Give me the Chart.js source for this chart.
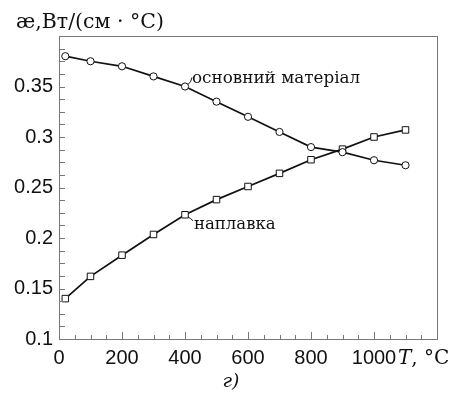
<!DOCTYPE html>
<html>
<head>
<meta charset="utf-8">
<script src="https://cdn.jsdelivr.net/npm/chart.js@4/dist/chart.umd.min.js"></script>
<style>
  html, body { margin: 0; padding: 0; background: #fff; }
  #wrap { width: 451px; height: 394px; }
</style>
</head>
<body>
<div id="wrap"><canvas id="kappaChart" width="451" height="394"></canvas></div>
<script>
// temperatures, °C
const temps = [20, 100, 200, 300, 400, 500, 600, 700, 800, 900, 1000, 1100];
// thermal conductivity, W/(cm·°C)
const baseMetal = [0.380, 0.375, 0.370, 0.360, 0.350, 0.335, 0.320, 0.305, 0.290, 0.285, 0.277, 0.272];
const overlay = [0.140, 0.162, 0.183, 0.2035, 0.223, 0.238, 0.251, 0.264, 0.2775, 0.288, 0.300, 0.307];
const seriesNames = ['основний матеріал', 'наплавка'];
const xTickLabels = [0, 200, 400, 600, 800, 1000];
const yTickLabels = [0.1, 0.15, 0.2, 0.25, 0.3, 0.35];

const serif = '"DejaVu Serif", serif';
const sans = '"Liberation Sans", Arial, sans-serif';

const toPoints = (xs, ys) => xs.map((x, i) => ({ x: x, y: ys[i] }));

// frame, inward ticks and the hand-placed text labels
const framePlugin = {
  id: 'frame',
  afterDraw(chart) {
    const ctx = chart.ctx;
    const a = chart.chartArea;
    const xs = chart.scales.x;
    const ys = chart.scales.y;
    ctx.save();
    ctx.strokeStyle = '#777';
    ctx.lineWidth = 1;
    ctx.strokeRect(a.left + 0.5, a.top + 0.5, a.right - a.left, a.bottom - a.top);

    // x ticks every 50, long at labelled values
    for (let v = 50; v < 1200; v += 50) {
      const px = Math.round(xs.getPixelForValue(v)) + 0.5;
      const len = xTickLabels.includes(v) ? 7 : 4;
      ctx.beginPath();
      ctx.moveTo(px, a.bottom);
      ctx.lineTo(px, a.bottom - len);
      ctx.stroke();
    }
    // y ticks every 0.0125
    for (let i = 1; i < 24; i++) {
      const v = 0.1 + i * 0.0125;
      const py = Math.round(ys.getPixelForValue(v)) + 0.5;
      ctx.beginPath();
      ctx.moveTo(a.left, py);
      ctx.lineTo(a.left + 6, py);
      ctx.stroke();
    }

    ctx.fillStyle = '#111';
    ctx.strokeStyle = '#111';
    ctx.textBaseline = 'alphabetic';

    // series labels with leader curves
    const p1x = xs.getPixelForValue(temps[4]);
    const p1y = ys.getPixelForValue(baseMetal[4]);
    ctx.beginPath();
    ctx.moveTo(p1x + 3, p1y - 2);
    ctx.quadraticCurveTo(p1x + 6, p1y - 4, p1x + 7, p1y - 9);
    ctx.stroke();
    ctx.font = '16.8px ' + serif;
    ctx.textAlign = 'left';
    ctx.fillText(seriesNames[0], p1x + 7, p1y - 4);

    const p2x = xs.getPixelForValue(temps[4]);
    const p2y = ys.getPixelForValue(overlay[4]);
    ctx.beginPath();
    ctx.moveTo(p2x + 3, p2y + 2);
    ctx.quadraticCurveTo(p2x + 6, p2y + 4, p2x + 8, p2y + 6);
    ctx.stroke();
    ctx.font = '16.5px ' + serif;
    ctx.fillText(seriesNames[1], p2x + 9, p2y + 14);

    // axis titles
    ctx.font = '20.5px ' + serif;
    ctx.fillText('æ,Вт/(см · °С)', 16, 28);

    ctx.font = 'italic 20px ' + serif;
    ctx.fillText('T', 398, 364);
    const tw = ctx.measureText('T').width;
    ctx.font = '20px ' + serif;
    ctx.fillText(', °C', 398 + tw, 364);

    ctx.font = 'italic 19px ' + serif;
    ctx.textAlign = 'center';
    ctx.fillText('г)', 231, 387);
    ctx.restore();
  }
};

new Chart(document.getElementById('kappaChart').getContext('2d'), {
  type: 'scatter',
  data: {
    datasets: [
      {
        label: seriesNames[0],
        data: toPoints(temps, baseMetal),
        showLine: true,
        borderColor: '#111',
        borderWidth: 1.7,
        pointStyle: 'circle',
        pointRadius: 3.6,
        pointBackgroundColor: '#fff',
        pointBorderColor: '#111',
        pointBorderWidth: 1,
        tension: 0
      },
      {
        label: seriesNames[1],
        data: toPoints(temps, overlay),
        showLine: true,
        borderColor: '#111',
        borderWidth: 1.7,
        pointStyle: 'rect',
        pointRadius: 4.6,
        pointBackgroundColor: '#fff',
        pointBorderColor: '#111',
        pointBorderWidth: 1,
        tension: 0
      }
    ]
  },
  options: {
    responsive: false,
    animation: false,
    events: [],
    layout: { padding: { top: 36, right: 14, left: 0, bottom: 0 } },
    plugins: { legend: { display: false }, tooltip: { enabled: false } },
    scales: {
      x: {
        type: 'linear',
        min: 0,
        max: 1200,
        afterFit(scale) { scale.height = 55; },
        border: { display: false },
        grid: { display: false, drawTicks: false },
        ticks: {
          stepSize: 200,
          padding: 7,
          color: '#111',
          font: { family: sans, size: 20 },
          callback: v => (xTickLabels.includes(v) ? String(v) : '')
        }
      },
      y: {
        type: 'linear',
        min: 0.1,
        max: 0.4,
        afterFit(scale) { scale.width = 59; },
        border: { display: false },
        grid: { display: false, drawTicks: false },
        ticks: {
          stepSize: 0.05,
          padding: 6,
          color: '#111',
          font: { family: sans, size: 20 },
          callback: v => {
            const r = Math.round(v * 100) / 100;
            return yTickLabels.some(t => Math.abs(t - r) < 1e-9) ? String(r) : '';
          }
        }
      }
    }
  },
  plugins: [framePlugin]
});
</script>
</body>
</html>
